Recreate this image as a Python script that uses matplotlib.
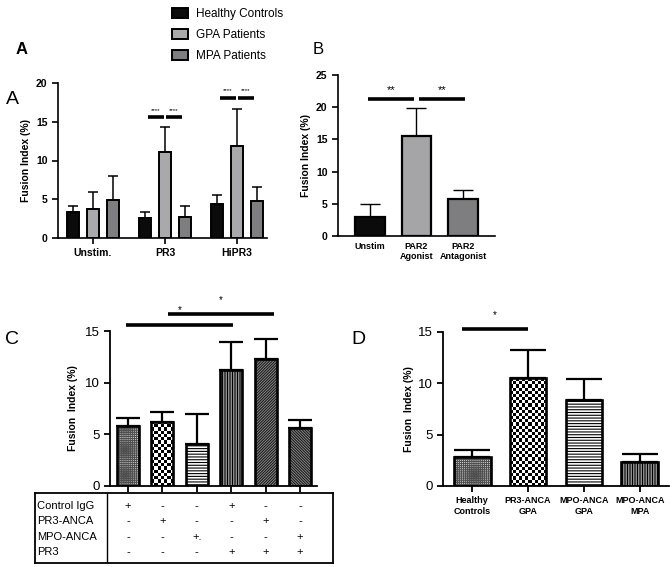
import numpy as np
import matplotlib.pyplot as plt
from matplotlib.patches import Patch

plt.rcParams['font.family'] = ['Liberation Sans', 'DejaVu Sans']
plt.rcParams['hatch.linewidth'] = 0.8

W, H = 672, 567

# --- Panel A data ---
a_groups = ['Unstim.', 'PR3', 'HiPR3']
a_series = ['Healthy Controls', 'GPA Patients', 'MPA Patients']
a_colors = ['#0b0b0b', '#a9a9ab', '#7e7e80']
a_means = [[3.4, 2.6, 4.4], [3.8, 11.1, 11.9], [4.9, 2.7, 4.8]]
a_tops = [[4.1, 3.4, 5.5], [6.0, 14.3, 16.7], [8.0, 4.1, 6.6]]

# --- Panel B data ---
b_labels = ['Unstim', 'PAR2\nAgonist', 'PAR2\nAntagonist']
b_colors = ['#0b0b0b', '#a5a5a7', '#7e7e80']
b_means = [2.9, 15.6, 5.8]
b_tops = [5.0, 19.8, 7.1]

# --- Panel C data ---
c_means = [5.8, 6.2, 4.1, 11.2, 12.3, 5.6]
c_tops = [6.6, 7.2, 7.0, 13.9, 14.2, 6.4]
c_hatch = ['grid', 'checker', 'hlines', 'vlines', 'diag', 'adiag']
c_rows = ['Control IgG', 'PR3-ANCA', 'MPO-ANCA', 'PR3']
c_table = [['+', '-', '-', '+', '-', '-'],
           ['-', '+', '-', '-', '+', '-'],
           ['-', '-', '+.', '-', '-', '+'],
           ['-', '-', '-', '+', '+', '+']]

# --- Panel D data ---
d_labels = ['Healthy\nControls', 'PR3-ANCA\nGPA', 'MPO-ANCA\nGPA', 'MPO-ANCA\nMPA']
d_means = [2.8, 10.5, 8.4, 2.3]
d_tops = [3.5, 13.2, 10.4, 3.1]
d_hatch = ['grid', 'checker', 'hlines', 'vlines']

# fill style -> (face, hatch, hatch colour)
fills = {
    'grid': ('#dcdcdc', '++++++++', '#505050'),
    'hlines': ('white', '------', 'black'),
    'vlines': ('white', '||||||||||', 'black'),
    'diag': ('#909090', '////////////', '#1a1a1a'),
    'adiag': ('#909090', '\\\\\\\\\\\\\\\\\\\\\\\\', '#1a1a1a'),
}


def px_axes(fig, x0, x1, ytop, ybot):
    return fig.add_axes([x0 / W, 1 - ybot / H, (x1 - x0) / W, (ybot - ytop) / H])


def style(ax, lw=1.3):
    for s in ['top', 'right']:
        ax.spines[s].set_visible(False)
    for s in ['left', 'bottom']:
        ax.spines[s].set_linewidth(lw)
    ax.tick_params(width=lw, length=4, direction='out')


def up_err(ax, x, means, tops, capw=5, lw=1.3):
    ax.errorbar(x, means, yerr=[np.zeros(len(means)), np.array(tops) - np.array(means)],
                fmt='none', ecolor='black', elinewidth=lw, capsize=capw, capthick=lw, zorder=1)


def sig(ax, x0, x1, y, text, ty, fs=7):
    ax.plot([x0, x1], [y, y], color='black', lw=2.6, clip_on=False, solid_capstyle='butt')
    ax.text((x0 + x1) / 2, ty, text, ha='center', va='center', fontsize=fs, clip_on=False)


def textured_bars(ax, x, means, styles, width):
    for xi, m, st in zip(x, means, styles):
        if st == 'checker':
            b = ax.bar(xi, m, width=width, color='white', lw=0, zorder=2)[0]
            x0, y0 = b.get_x(), b.get_y()
            x1, y1 = x0 + b.get_width(), y0 + b.get_height()
            p0 = ax.transData.transform((x0, y0))
            p1 = ax.transData.transform((x1, y1))
            nx = max(2, int(round((p1[0] - p0[0]) / 3.2)))
            ny = max(2, int(round((p1[1] - p0[1]) / 3.2)))
            img = (np.add.outer(np.arange(ny), np.arange(nx)) % 2).astype(float)
            im = ax.imshow(img, cmap='gray', extent=(x0, x1, y0, y1), aspect='auto',
                           interpolation='nearest', zorder=2.5)
            im.set_clip_path(b)
        else:
            face, hatch, hcol = fills[st]
            ax.bar(xi, m, width=width, facecolor=face, edgecolor=hcol, hatch=hatch,
                   lw=0, zorder=2)
    ax.bar(x, means, width=width, fill=False, edgecolor='black', lw=1.9, zorder=3)


fig = plt.figure(figsize=(W / 100, H / 100), dpi=100)

# ---------------- Panel A ----------------
axA = px_axes(fig, 58, 267, 83, 238)
off, bw = 0.278, 0.167
gx = np.arange(len(a_groups))
for i, (name, col) in enumerate(zip(a_series, a_colors)):
    xs = gx + (i - 1) * off
    axA.bar(xs, a_means[i], width=bw, color=col, edgecolor='black', lw=1.4, zorder=2)
    up_err(axA, xs, a_means[i], a_tops[i], capw=3.5, lw=1.1)
axA.set_xlim(-0.486, 2.417)
axA.set_ylim(0, 20)
axA.set_yticks([0, 5, 10, 15, 20])
axA.set_xticks(gx)
axA.set_xticklabels(a_groups, fontsize=7.5, fontweight='bold')
axA.tick_params(axis='y', labelsize=7.5)
for t in axA.get_yticklabels():
    t.set_fontweight('bold')
axA.set_ylabel('Fusion Index (%)', fontsize=7.5, fontweight='bold', labelpad=4)
style(axA, lw=1.2)
for g, y, ty in [(1, 15.6, 16.5), (2, 18.1, 19.0)]:
    sig(axA, g - off + 0.04, g - 0.01, y, '****', ty, fs=4.5)
    sig(axA, g + 0.01, g + off - 0.04, y, '****', ty, fs=4.5)

handles = [Patch(facecolor=c, edgecolor='black', lw=1.4) for c in a_colors]
fig.legend(handles, a_series, loc='upper left', bbox_to_anchor=(164 / W, 1 - 0 / H),
           frameon=False, fontsize=8.5, handlelength=1.3, handleheight=0.85,
           handletextpad=0.7, labelspacing=0.75, borderpad=0.2)

# ---------------- Panel B ----------------
axB = px_axes(fig, 338, 495, 75, 236)
bx = np.arange(len(b_labels))
axB.bar(bx, b_means, width=0.645, color=b_colors, edgecolor='black', lw=1.6, zorder=2)
up_err(axB, bx, b_means, b_tops, capw=7, lw=1.0)
axB.set_xlim(-0.69, 2.69)
axB.set_ylim(0, 25)
axB.set_yticks([0, 5, 10, 15, 20, 25])
axB.set_xticks(bx)
axB.set_xticklabels(b_labels, fontsize=6.5, fontweight='bold')
axB.tick_params(axis='y', labelsize=7.5)
for t in axB.get_yticklabels():
    t.set_fontweight('bold')
axB.set_ylabel('Fusion Index (%)', fontsize=7.5, fontweight='bold', labelpad=4)
style(axB, lw=1.2)
axB.tick_params(axis='x', length=0, pad=4)
sig(axB, -0.05, 0.95, 21.2, '**', 22.6, fs=8)
sig(axB, 1.05, 2.05, 21.2, '**', 22.6, fs=8)

# ---------------- Panel C ----------------
axC = px_axes(fig, 110, 317, 331, 486)
cx = np.arange(len(c_means))
axC.set_xlim(-0.52, 5.49)
axC.set_ylim(0, 15)
up_err(axC, cx, c_means, c_tops, capw=8.5, lw=1.6)
textured_bars(axC, cx, c_means, c_hatch, 0.64)
axC.set_yticks([0, 5, 10, 15])
axC.set_xticks(cx)
axC.set_xticklabels([])
axC.tick_params(axis='y', labelsize=9.5)
axC.set_ylabel('Fusion  Index (%)', fontsize=7.5, fontweight='bold', labelpad=5)
style(axC, lw=1.3)
sig(axC, -0.05, 3.05, 15.6, '*', 17.0, fs=7)
sig(axC, 1.15, 4.25, 16.6, '*', 18.0, fs=7)

# table under panel C
pxu = (317 - 110) / (5.49 + 0.52)
axT = px_axes(fig, 35, 333, 493, 563)
axT.set_xlim(-0.52 - (110 - 35) / pxu, 5.49 + (333 - 317) / pxu)
axT.set_ylim(3.72, -0.85)
axT.set_xticks([])
axT.set_yticks([])
for s in axT.spines.values():
    s.set_linewidth(1.3)
axT.axvline(-0.52 - (110 - 107) / pxu, color='black', lw=1.0)
for r, name in enumerate(c_rows):
    axT.text(-0.52 - (110 - 37) / pxu, r, name, ha='left', va='center', fontsize=8)
    for j, s in enumerate(c_table[r]):
        axT.text(cx[j], r, s, ha='center', va='center', fontsize=8)

# ---------------- Panel D ----------------
axD = px_axes(fig, 443, 669, 332, 486)
dx = np.arange(len(d_means))
axD.set_xlim(-0.52, 3.52)
axD.set_ylim(0, 15)
up_err(axD, dx, d_means, d_tops, capw=13, lw=1.6)
textured_bars(axD, dx, d_means, d_hatch, 0.66)
axD.set_yticks([0, 5, 10, 15])
axD.set_xticks(dx)
axD.set_xticklabels(d_labels, fontsize=6.5, fontweight='bold')
axD.tick_params(axis='y', labelsize=9.5)
axD.set_ylabel('Fusion  Index (%)', fontsize=7.5, fontweight='bold', labelpad=3)
style(axD, lw=1.3)
sig(axD, -0.18, 1.0, 15.3, '*', 16.6, fs=7)

# panel letters
fig.text(22 / W, 1 - 50 / H, 'A', fontsize=12, fontweight='bold', ha='center', va='center')
fig.text(12 / W, 1 - 100 / H, 'A', fontsize=14, ha='center', va='center')
fig.text(318 / W, 1 - 50 / H, 'B', fontsize=12, ha='center', va='center')
fig.text(12 / W, 1 - 340 / H, 'C', fontsize=14, ha='center', va='center')
fig.text(358 / W, 1 - 340 / H, 'D', fontsize=14, ha='center', va='center')

fig.savefig('out.png', dpi=100, facecolor='white')
